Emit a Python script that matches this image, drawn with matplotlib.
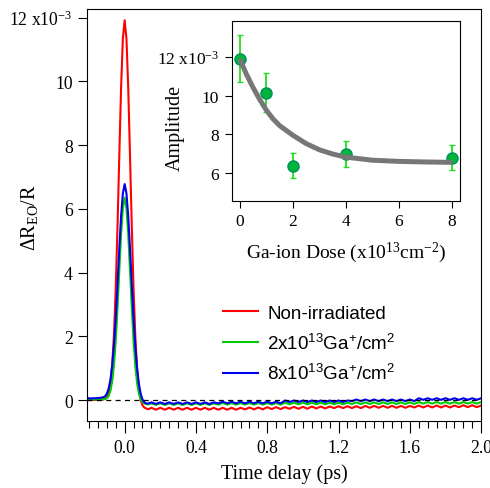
import numpy as np
import matplotlib
matplotlib.use("Agg")
import matplotlib.pyplot as plt
from matplotlib.ticker import MultipleLocator, FixedLocator, FixedFormatter

plt.rcParams['font.family'] = ['Liberation Serif', 'DejaVu Serif']
plt.rcParams['mathtext.default'] = 'regular'

# ---- main traces (dR/R in units of 1e-3) ----
t_peak = np.round(np.arange(-0.21, 0.145, 0.01), 3)     # 36 samples
t_tail = np.round(np.arange(0.15, 2.0001, 0.025), 3)    # 75 samples

red_peak = [0.00, 0.00, 0.00, 0.01, 0.00, 0.01, 0.00, 0.01, 0.01, 0.02, 0.04,
            0.09, 0.23, 0.52, 1.09, 2.05, 3.52, 5.46, 7.68, 9.81, 11.35,
            11.92, 11.35, 9.81, 7.68, 5.45, 3.48, 1.98, 0.98, 0.36, 0.00,
            -0.16, -0.23, -0.26, -0.28, -0.27]
green_peak = [0.02, 0.02, 0.02, 0.02, 0.02, 0.02, 0.02, 0.02, 0.02, 0.03, 0.04,
              0.06, 0.13, 0.29, 0.58, 1.09, 1.87, 2.90, 4.08, 5.21, 6.03,
              6.35, 6.03, 5.21, 4.08, 2.90, 1.85, 1.05, 0.52, 0.20, 0.03,
              -0.06, -0.10, -0.12, -0.13, -0.12]
blue_peak = [0.06, 0.06, 0.05, 0.06, 0.06, 0.06, 0.07, 0.07, 0.08, 0.09, 0.12,
             0.20, 0.36, 0.63, 1.08, 1.73, 2.57, 3.64, 4.77, 5.78, 6.49,
             6.78, 6.49, 5.78, 4.77, 3.62, 2.55, 1.65, 0.98, 0.50, 0.20,
             0.02, -0.06, -0.10, -0.11, -0.09]

red_tail = [-0.24, -0.30, -0.24, -0.30, -0.24, -0.30, -0.24, -0.30, -0.24, -0.30,
            -0.24, -0.30, -0.24, -0.30, -0.24, -0.30, -0.24, -0.30, -0.24, -0.30,
            -0.24, -0.29, -0.23, -0.29, -0.23, -0.29, -0.22, -0.28, -0.22, -0.28,
            -0.22, -0.27, -0.21, -0.27, -0.21, -0.27, -0.20, -0.26, -0.20, -0.26,
            -0.20, -0.25, -0.19, -0.25, -0.19, -0.25, -0.19, -0.25, -0.18, -0.24,
            -0.18, -0.24, -0.18, -0.24, -0.18, -0.24, -0.18, -0.24, -0.18, -0.23,
            -0.17, -0.23, -0.17, -0.23, -0.17, -0.23, -0.17, -0.23, -0.17, -0.22,
            -0.16, -0.22, -0.16, -0.22, -0.17]
green_tail = [-0.10, -0.15, -0.10, -0.15, -0.10, -0.15, -0.10, -0.15, -0.10, -0.15,
              -0.10, -0.15, -0.10, -0.15, -0.10, -0.14, -0.09, -0.14, -0.09, -0.14,
              -0.09, -0.14, -0.09, -0.14, -0.09, -0.14, -0.09, -0.14, -0.09, -0.14,
              -0.08, -0.13, -0.08, -0.13, -0.08, -0.13, -0.08, -0.13, -0.08, -0.13,
              -0.08, -0.13, -0.08, -0.13, -0.08, -0.12, -0.07, -0.12, -0.07, -0.12,
              -0.07, -0.12, -0.07, -0.12, -0.07, -0.12, -0.07, -0.12, -0.07, -0.12,
              -0.06, -0.11, -0.06, -0.11, -0.06, -0.11, -0.06, -0.11, -0.06, -0.11,
              -0.06, -0.11, -0.06, -0.11, -0.06]
blue_tail = [-0.07, -0.12, -0.07, -0.12, -0.07, -0.12, -0.07, -0.12, -0.07, -0.12,
             -0.07, -0.12, -0.07, -0.12, -0.07, -0.10, -0.05, -0.10, -0.05, -0.10,
             -0.05, -0.10, -0.05, -0.10, -0.05, -0.10, -0.05, -0.10, -0.05, -0.10,
             -0.01, -0.06, -0.01, -0.06, -0.01, -0.06, -0.01, -0.06, -0.01, -0.06,
             -0.01, -0.06, -0.01, -0.06, -0.01, -0.03, 0.02, -0.03, 0.02, -0.03,
             0.02, -0.03, 0.02, -0.03, 0.02, -0.03, 0.02, -0.03, 0.02, -0.03,
             0.06, 0.01, 0.06, 0.01, 0.06, 0.01, 0.06, 0.01, 0.06, 0.01,
             0.06, 0.01, 0.06, 0.01, 0.06]

labels = ['Non-irradiated',
          '2x10$^{13}$Ga$^{+}$/cm$^{2}$',
          '8x10$^{13}$Ga$^{+}$/cm$^{2}$']
colors = ['#ff0000', '#00cc00', '#0000ee']

# ---- inset: amplitude vs dose ----
dose = [0, 1, 2, 4, 8]
amp = [11.9, 10.15, 6.37, 6.97, 6.8]
amp_err = [1.2, 1.0, 0.65, 0.68, 0.67]
fit_x = [0, 0.25, 0.5, 0.75, 1, 1.25, 1.5, 2, 2.5, 3, 3.5, 4, 5, 6, 7, 8]
fit_y = [11.9, 11.1, 10.42, 9.8, 9.25, 8.8, 8.45, 7.95, 7.52, 7.2, 6.98,
         6.82, 6.66, 6.6, 6.57, 6.55]

fig = plt.figure(figsize=(4.9, 4.89), dpi=100)
ax = fig.add_axes([0.178, 0.136, 0.804, 0.844])

t_all = np.concatenate([t_peak, t_tail])
series = [red_peak + red_tail, green_peak + green_tail, blue_peak + blue_tail]
for vals, c, lab in zip(series, colors, labels):
    ax.plot(t_all, vals, color=c, lw=1.5, label=lab)
ax.axhline(0, color='black', lw=0.9, ls=(0, (4, 3.5)), zorder=5)

ax.set_xlim(-0.21, 2.0)
ax.set_ylim(-0.67, 12.28)
ax.xaxis.set_major_locator(MultipleLocator(0.4))
ax.xaxis.set_minor_locator(MultipleLocator(0.05))
ax.xaxis.set_major_formatter(plt.FuncFormatter(lambda v, p: '%.1f' % v))
yt = [0, 2, 4, 6, 8, 10, 12]
ax.yaxis.set_major_locator(FixedLocator(yt))
ax.yaxis.set_major_formatter(FixedFormatter(['0', '2', '4', '6', '8', '10', '12 x10$^{-3}$']))
ax.tick_params(axis='both', which='major', direction='out', labelsize=12.7, width=0.8)
ax.tick_params(axis='x', which='major', length=8.5, pad=4)
ax.tick_params(axis='x', which='minor', direction='out', length=4.8, width=0.8)
ax.tick_params(axis='y', which='major', length=6.5, pad=4)
for s in ax.spines.values():
    s.set_linewidth(0.8)
ax.set_xlabel('Time delay (ps)', fontsize=14.5)
ax.xaxis.set_label_coords(0.5, -0.102)
ax.set_ylabel('ΔR$_{EO}$/R', fontsize=14.5)
ax.yaxis.set_label_coords(-0.12, 0.496)

leg = ax.legend(loc='upper left', bbox_to_anchor=(0.345, 0.283), frameon=False,
                prop={'family': 'Liberation Sans', 'size': 13.5},
                handlelength=1.85, handletextpad=0.5, labelspacing=0.57,
                borderpad=0, borderaxespad=0)

# inset
ins = fig.add_axes([0.473, 0.5875, 0.466, 0.368])
ins.errorbar(dose, amp, yerr=amp_err, fmt='o', ms=8, mfc='#00b43c', mec='#00905a',
             mew=1.0, ecolor='#22dd22', elinewidth=1.3, capsize=2.5, capthick=1.3,
             zorder=3)
ins.plot(fit_x, fit_y, color='#777777', lw=3.6, solid_capstyle='butt', zorder=4)
ins.set_xlim(-0.3, 8.3)
ins.set_ylim(4.57, 13.86)
ins.xaxis.set_major_locator(FixedLocator([0, 2, 4, 6, 8]))
ins.yaxis.set_major_locator(FixedLocator([6, 8, 10, 12]))
ins.yaxis.set_major_formatter(FixedFormatter(['6', '8', '10', '12 x10$^{-3}$']))
ins.tick_params(axis='both', direction='out', length=5, width=0.8, labelsize=12.5, pad=4)
for s in ins.spines.values():
    s.set_linewidth(0.8)
ins.set_xlabel('Ga-ion Dose (x10$^{13}$cm$^{-2}$)', fontsize=14)
ins.xaxis.set_label_coords(0.5, -0.215)
ins.set_ylabel('Amplitude', fontsize=14.5)
ins.yaxis.set_label_coords(-0.205, 0.41)

fig.savefig('out.png', dpi=100)
